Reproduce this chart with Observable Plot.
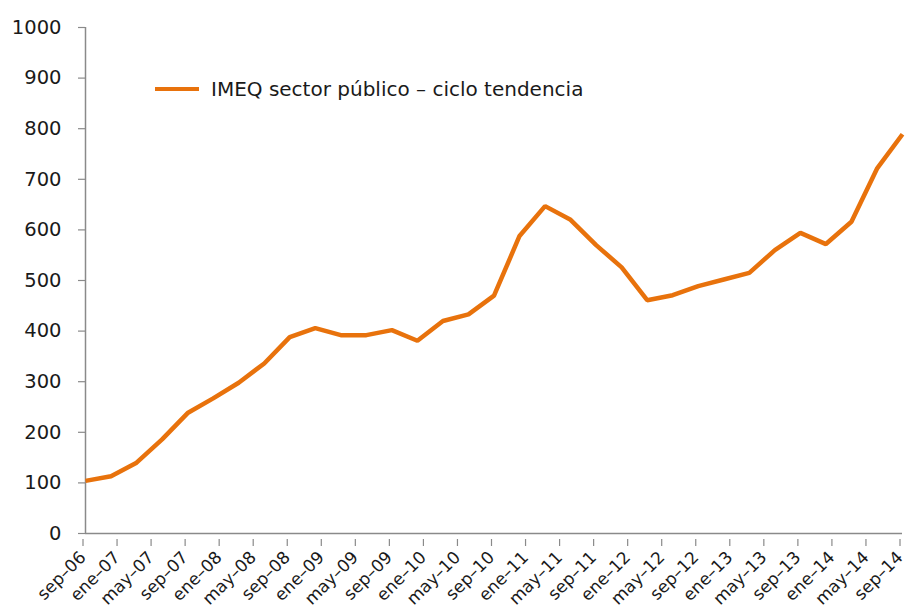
<!DOCTYPE html>
<html>
<head>
<meta charset="utf-8">
<script src="https://cdn.jsdelivr.net/npm/d3@7"></script>
<script src="https://cdn.jsdelivr.net/npm/@observablehq/plot@0.6"></script>
<style>
  html, body { margin: 0; padding: 0; background: #fff; }
  #chart { position: relative; width: 907px; height: 610px; font-family: "DejaVu Sans", sans-serif; }
  #legend { position: absolute; left: 155px; top: 77px; display: flex; align-items: center; font-size: 20px; color: #1a1a1a; white-space: nowrap; }
  #legend .swatch { width: 44px; height: 4.5px; background: #E8720C; margin-right: 12px; }
</style>
</head>
<body>
<div id="chart"><div id="legend"><span class="swatch"></span><span id="legend-label"></span></div></div>
<script>
const seriesName = "IMEQ sector público – ciclo tendencia";
const periods = ["sep-06","dic-06","mar-07","jun-07","sep-07","dic-07","mar-08","jun-08","sep-08","dic-08",
  "mar-09","jun-09","sep-09","dic-09","mar-10","jun-10","sep-10","dic-10","mar-11","jun-11","sep-11","dic-11",
  "mar-12","jun-12","sep-12","dic-12","mar-13","jun-13","sep-13","dic-13","mar-14","jun-14","sep-14"];
const values = [104,113,140,186,238,267,298,336,388,406,
  392,392,402,381,420,433,470,588,647,620,570,526,
  461,471,489,502,515,560,594,572,616,721,789];
const xTickLabels = ["sep-06","ene-07","may-07","sep-07","ene-08","may-08","sep-08","ene-09","may-09","sep-09",
  "ene-10","may-10","sep-10","ene-11","may-11","sep-11","ene-12","may-12","sep-12","ene-13","may-13","sep-13",
  "ene-14","may-14","sep-14"];
const yTicks = [0,100,200,300,400,500,600,700,800,900,1000];

const monthNames = ["ene","feb","mar","abr","may","jun","jul","ago","sep","oct","nov","dic"];
// months elapsed since sep-06
const monthIndex = (lab) => {
  const [m, y] = lab.split("-");
  return (2000 + +y - 2006) * 12 + monthNames.indexOf(m) - 8;
};
const data = periods.map((p, i) => ({period: p, t: monthIndex(p), value: values[i]}));
const tickPos = xTickLabels.map(monthIndex);
const labelOf = new Map(xTickLabels.map(l => [monthIndex(l), l.replace("-", "–")]));

const axisColor = "#8a8a8a";
const orange = "#E8720C";

const plot = Plot.plot({
  width: 907,
  height: 610,
  marginLeft: 85,
  marginRight: 5,
  marginTop: 27,
  marginBottom: 77,
  style: {fontFamily: "DejaVu Sans, sans-serif", fontSize: "18px", color: "#1a1a1a", background: "#fff"},
  x: {type: "linear", domain: [monthIndex(xTickLabels[0]), monthIndex(xTickLabels[xTickLabels.length - 1])]},
  y: {domain: [0, 1000]},
  marks: [
    Plot.axisY({ticks: yTicks, tickFormat: d => String(d), tickSize: 7, tickPadding: 17, stroke: axisColor, strokeWidth: 1.2, label: null, fontSize: 19.5}),
    Plot.axisX({ticks: tickPos, tickFormat: d => labelOf.get(d), tickSize: 7, tickPadding: 8, tickRotate: -45,
      dx: -2.5, dy: 6, stroke: axisColor, strokeWidth: 1.2, label: null, fontSize: 17}),
    Plot.ruleX([monthIndex(xTickLabels[0])], {stroke: axisColor, strokeWidth: 1.5}),
    Plot.ruleY([0], {stroke: axisColor, strokeWidth: 1.5}),
    Plot.line(data, {x: "t", y: "value", stroke: orange, strokeWidth: 4.5, strokeLinejoin: "miter", strokeLinecap: "butt"})
  ]
});
document.getElementById("chart").prepend(plot);
document.getElementById("legend-label").textContent = seriesName;
</script>
</body>
</html>
